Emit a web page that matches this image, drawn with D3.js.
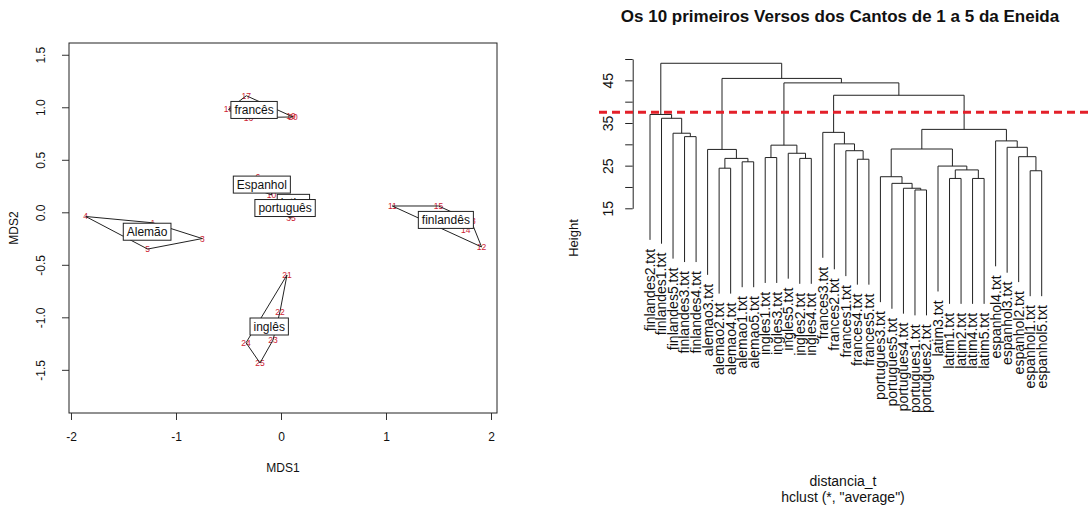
<!DOCTYPE html>
<html>
<head>
<meta charset="utf-8">
<script src="https://cdn.jsdelivr.net/npm/d3@7/dist/d3.min.js"></script>
<style>
body { margin: 0; background: #fff; }
text { font-family: "Liberation Sans", Arial, sans-serif; fill: #111; }
</style>
</head>
<body>
<script>
// ---- data: MDS of the 35 texts (left panel) ----
var groupNames = ["Alemão", "Espanhol", "finlandês", "francês", "inglês", "latim", "português"];
var mdsId = ["1","2","3","4","5","6","7","8","9","10","11","12","13","14","15","16","17","18",
             "19","20","21","22","23","24","25","26","27","28","29","30","31","32","33","34","35"];
var mdsGroup = [0,0,0,0,0, 1,1,1,1,1, 2,2,2,2,2, 3,3,3,3,3, 4,4,4,4,4, 5,5,5,5,5, 6,6,6,6,6];
var mdsX = [-1.22, -1.30, -0.75, -1.86, -1.27,
            -0.22, -0.32, -0.10, -0.18, -0.09,
             1.06,  1.91,  1.81,  1.76,  1.50,
            -0.31, -0.33, -0.50,  0.095, 0.114,
             0.057, -0.01, -0.076, -0.333, -0.20,
             0.05,  0.20,  0.10,  0.17,  0.07,
            -0.05,  0.10,  0.00,  0.01,  0.095];
var mdsY = [-0.10, -0.20, -0.25, -0.04, -0.35,
             0.34,  0.25,  0.30,  0.26,  0.165,
             0.06, -0.33, -0.08, -0.17,  0.06,
             0.90,  1.11,  0.98,  0.912, 0.908,
            -0.597, -0.947, -1.216, -1.242, -1.435,
             0.13,  0.12,  0.05,  0.06,  0.09,
             0.10,  0.12,  0.05,  0.00, -0.057];
var mdsXTicks = [-2, -1, 0, 1, 2];
var mdsYTicks = [-1.5, -1.0, -0.5, 0.0, 0.5, 1.0, 1.5];

// ---- data: hclust "average" (right panel) ----
var leafLabels = ["finlandes2.txt","finlandes1.txt","finlandes5.txt","finlandes3.txt","finlandes4.txt",
  "alemao3.txt","alemao2.txt","alemao4.txt","alemao1.txt","alemao5.txt",
  "ingles1.txt","ingles3.txt","ingles5.txt","ingles2.txt","ingles4.txt",
  "frances3.txt","frances2.txt","frances1.txt","frances4.txt","frances5.txt",
  "portugues3.txt","portugues5.txt","portugues4.txt","portugues1.txt","portugues2.txt",
  "latim3.txt","latim1.txt","latim2.txt","latim4.txt","latim5.txt",
  "espanhol4.txt","espanhol3.txt","espanhol2.txt","espanhol1.txt","espanhol5.txt"];
// like R's merge matrix: negative = leaf (position in leafLabels), positive = earlier merge
var mergeA = [-24,-23,-22,-21,-27,-29, 5,-26, 4,-34,-33,-32,-31, 9,-19,-18,-17,-16,18,-11,-14,-13,20, 23,-7,-9,25,-6, 28,-4,-3,-2,-1,33];
var mergeB = [-25,  1,  2,  3,-28,-30, 6,  7, 8,-35, 10, 11, 12,13,-20, 15, 16, 17,14,-12,-15, 21,22, 19,-8,-10,26,27, 24,-5,30,31,32,29];
var mergeHeight = [19.3,19.7,20.85,22.4,22.0,22.0,24.0,24.9,28.9,23.8,27.1,29.3,30.8,33.5,
  26.5,28.5,30.1,32.8,41.5,26.9,26.7,27.9,29.8,44.4,24.4,25.9,26.7,28.8,45.45,31.8,32.6,36.1,37.0,49.0];
var heightTicks = [15, 20, 25, 30, 35, 40, 45, 50];
var cutHeight = 37.5;
var hang = 29.4;

var svg = d3.select("body").append("svg")
    .attr("width", 1090)
    .attr("height", 513);

//===== left panel: MDS with hulls =====
var sx = d3.scaleLinear().domain([-2.019, 2.057]).range([69, 497]);
var sy = d3.scaleLinear().domain([-1.911, 1.612]).range([413, 43]);

var left = svg.append("g");

left.append("g")
    .attr("transform", "translate(0,413)")
    .call(d3.axisBottom(sx).tickValues(mdsXTicks).tickSize(7).tickPadding(12.5)
        .tickFormat(function(d) { return String(d); }))
    .call(function(g) {
        g.select(".domain").remove();
        g.selectAll("text").style("font-size", "12px").attr("fill", "#222");
        g.selectAll("line").attr("stroke", "#333");
    });

left.append("g")
    .attr("transform", "translate(69,0)")
    .call(d3.axisLeft(sy).tickValues(mdsYTicks).tickSize(7)
        .tickFormat(function(d) { return d.toFixed(1); }))
    .call(function(g) {
        g.select(".domain").remove();
        g.selectAll("line").attr("stroke", "#333");
        g.selectAll("text")
            .style("font-size", "12px").attr("fill", "#222")
            .attr("x", 0).attr("y", -24).attr("dy", 0)
            .attr("text-anchor", "middle")
            .attr("transform", "rotate(-90)");
    });

left.append("rect")
    .attr("x", 69).attr("y", 43)
    .attr("width", 428).attr("height", 370)
    .attr("fill", "none").attr("stroke", "#222");

left.append("text").text("MDS1")
    .attr("x", 283).attr("y", 472)
    .attr("text-anchor", "middle").style("font-size", "12px");
left.append("text").text("MDS2")
    .attr("transform", "translate(18,228) rotate(-90)")
    .attr("text-anchor", "middle").style("font-size", "12px");

// point numbers
left.selectAll(".pt").data(mdsId).enter().append("text").classed("pt", true)
    .text(function(d) { return d; })
    .attr("x", function(d, i) { return sx(mdsX[i]); })
    .attr("y", function(d, i) { return sy(mdsY[i]); })
    .attr("dy", "0.35em")
    .attr("text-anchor", "middle")
    .style("font-size", "8.5px")
    .style("fill", "#cc2233");

// hulls
var hulls = groupNames.map(function(name, g) {
    var pts = [];
    mdsGroup.forEach(function(gg, i) {
        if (gg === g) pts.push([sx(mdsX[i]), sy(mdsY[i])]);
    });
    return d3.polygonHull(pts);
});

left.selectAll(".hull").data(hulls).enter().append("path").classed("hull", true)
    .attr("d", function(h) { return "M" + h.join("L") + "Z"; })
    .attr("fill", "none")
    .attr("stroke", "#222")
    .attr("stroke-width", 1);

// group labels in boxes, at the mean of the hull vertices
groupNames.forEach(function(name, g) {
    var h = hulls[g];
    var cx = d3.mean(h, function(p) { return p[0]; });
    var cy = d3.mean(h, function(p) { return p[1]; });
    var lab = left.append("g").attr("transform", "translate(" + cx + "," + cy + ")");
    var rect = lab.append("rect");
    var t = lab.append("text").text(name)
        .attr("text-anchor", "middle")
        .attr("dy", "0.35em")
        .style("font-size", "12px");
    var w = t.node().getComputedTextLength() + 7;
    rect.attr("x", -w / 2).attr("y", -8.5)
        .attr("width", w).attr("height", 17)
        .attr("fill", "#fff").attr("stroke", "#222");
});

//===== right panel: dendrogram =====
var lx = d3.scaleLinear().domain([1, leafLabels.length]).range([650, 1041.7]);
var hy = d3.scaleLinear().domain([15, 50]).range([208.3, 59]);

var right = svg.append("g");

right.append("text")
    .text("Os 10 primeiros Versos dos Cantos de 1 a 5 da Eneida")
    .attr("x", 840).attr("y", 22)
    .attr("text-anchor", "middle")
    .style("font-size", "17px").style("font-weight", "bold");

right.append("g")
    .attr("transform", "translate(632.7,0)")
    .call(d3.axisLeft(hy).tickValues(heightTicks).tickSize(7.5).tickSizeOuter(0)
        .tickFormat(function(d) { return d % 10 === 5 ? String(d) : ""; }))
    .call(function(g) {
        g.select(".domain").attr("stroke", "#222");
        g.selectAll("line").attr("stroke", "#222");
        g.selectAll("text")
            .style("font-size", "14px").attr("fill", "#222")
            .attr("x", 0).attr("y", -20).attr("dy", 0)
            .attr("text-anchor", "middle")
            .attr("transform", "rotate(-90)");
    });

right.append("text").text("Height")
    .attr("transform", "translate(578,238) rotate(-90)")
    .attr("text-anchor", "middle").style("font-size", "13px");

right.append("text").text("distancia_t")
    .attr("x", 843).attr("y", 486)
    .attr("text-anchor", "middle").style("font-size", "14px");
right.append("text").text("hclust (*, \"average\")")
    .attr("x", 843).attr("y", 502)
    .attr("text-anchor", "middle").style("font-size", "14px");

// node positions
var nodeX = [];
var leafBottom = [];
function childX(c) { return c < 0 ? lx(-c) : nodeX[c - 1]; }
function childY(c, h) {
    if (c < 0) {
        leafBottom[-c - 1] = hy(h - hang);
        return hy(h - hang);
    }
    return hy(mergeHeight[c - 1]);
}

var links = [];
mergeA.forEach(function(a, i) {
    var b = mergeB[i], h = mergeHeight[i];
    var xa = childX(a), xb = childX(b);
    nodeX[i] = (xa + xb) / 2;
    links.push({ xa: xa, ya: childY(a, h), xb: xb, yb: childY(b, h), y: hy(h) });
});

right.selectAll(".link").data(links).enter().append("path").classed("link", true)
    .attr("d", function(d) {
        return "M" + d.xa + "," + d.ya + "V" + d.y + "H" + d.xb + "V" + d.yb;
    })
    .attr("fill", "none")
    .attr("stroke", "#222")
    .attr("stroke-width", 1);

right.selectAll(".leaf").data(leafLabels).enter().append("text").classed("leaf", true)
    .text(function(d) { return d; })
    .attr("transform", function(d, i) {
        return "translate(" + lx(i + 1) + "," + (leafBottom[i] + 9) + ") rotate(-90)";
    })
    .attr("text-anchor", "end")
    .attr("dy", "0.35em")
    .style("font-size", "14px");

// cut line
right.append("line")
    .attr("x1", 599).attr("x2", 1090)
    .attr("y1", hy(cutHeight)).attr("y2", hy(cutHeight))
    .attr("stroke", "#e3202a")
    .attr("stroke-width", 3)
    .attr("stroke-dasharray", "8,5");
</script>
</body>
</html>
